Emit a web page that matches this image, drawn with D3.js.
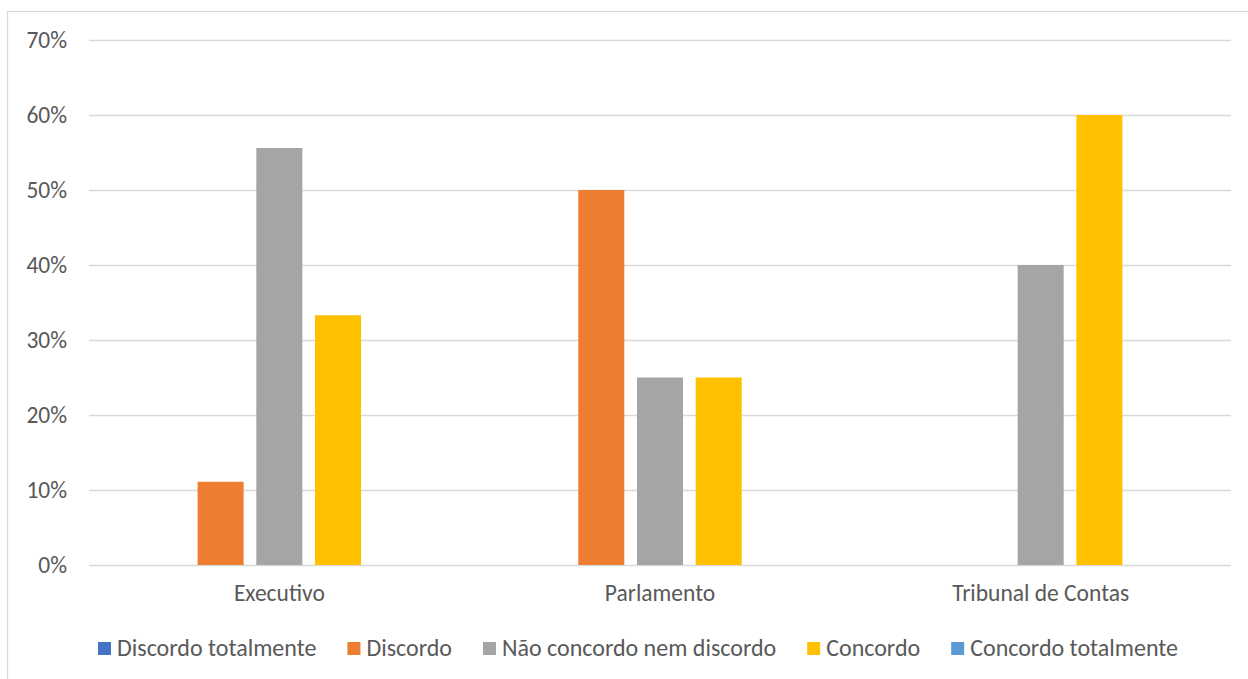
<!DOCTYPE html>
<html>
<head>
<meta charset="utf-8">
<script src="https://cdn.jsdelivr.net/npm/d3@7"></script>
<style>
  html, body { margin: 0; padding: 0; background: #fff; }
  svg { display: block; font-family: Carlito, Calibri, "Noto Sans", sans-serif; }
</style>
</head>
<body>
<svg id="chart" width="1248" height="679"></svg>
<script>
// Categories, series and values (shares of respondents)
const categories = ["Executivo", "Parlamento", "Tribunal de Contas"];
const seriesNames = ["Discordo totalmente", "Discordo", "Não concordo nem discordo", "Concordo", "Concordo totalmente"];
const seriesColors = ["#4472C4", "#ED7D31", "#A5A5A5", "#FFC000", "#5B9BD5"];
const discordoTotalmente = [0, 0, 0];
const discordo = [0.111, 0.50, 0];
const naoConcordoNemDiscordo = [0.556, 0.25, 0.40];
const concordo = [0.333, 0.25, 0.60];
const concordoTotalmente = [0, 0, 0];
const yTicks = [0, 0.1, 0.2, 0.3, 0.4, 0.5, 0.6, 0.7];

const seriesValues = [discordoTotalmente, discordo, naoConcordoNemDiscordo, concordo, concordoTotalmente];

const svg = d3.select("#chart");
const plot = { left: 89, right: 1231, top: 40, bottom: 565 };
const textColor = "#595959";
const gridColor = "#D9D9D9";
const fontStack = "Carlito, Calibri, 'Noto Sans', sans-serif";

// Chart frame
svg.append("rect")
  .attr("x", 7.5).attr("y", 11.5)
  .attr("width", 1300).attr("height", 700)
  .attr("fill", "#fff").attr("stroke", gridColor).attr("stroke-width", 1.3);

const x0 = d3.scaleBand().domain(categories).range([plot.left, plot.right]).padding(0);
const x1 = d3.scaleBand().domain(seriesNames).range([0, x0.bandwidth()])
  .paddingInner(0.216).paddingOuter(0.85);
const y = d3.scaleLinear().domain([0, 0.7]).range([plot.bottom, plot.top]);

// Horizontal gridlines
svg.append("g")
  .selectAll("line")
  .data(yTicks)
  .join("line")
  .attr("x1", plot.left).attr("x2", plot.right)
  .attr("y1", d => Math.round(y(d)) + 0.5).attr("y2", d => Math.round(y(d)) + 0.5)
  .attr("stroke", gridColor).attr("stroke-width", 1.3);

// Y axis labels
const yAxis = d3.axisLeft(y).tickValues(yTicks).tickFormat(d3.format(".0%")).tickSize(0).tickPadding(22);
const gy = svg.append("g").attr("transform", `translate(${plot.left},0)`).call(yAxis);
gy.select(".domain").remove();
gy.selectAll("text").attr("fill", textColor).style("font-size", "23.5px")
  .style("font-family", fontStack);

// Bars
const rows = categories.map((c, i) => ({ cat: c, vals: seriesNames.map((s, j) => ({ s, j, v: seriesValues[j][i] })) }));
const groups = svg.append("g").selectAll("g")
  .data(rows)
  .join("g")
  .attr("transform", d => `translate(${x0(d.cat)},0)`);
groups.selectAll("rect")
  .data(d => d.vals.filter(e => e.v > 0))
  .join("rect")
  .attr("x", d => x1(d.s))
  .attr("width", x1.bandwidth())
  .attr("y", d => y(d.v))
  .attr("height", d => y(0) - y(d.v))
  .attr("fill", d => seriesColors[d.j]);

// Category axis labels
const xAxis = d3.axisBottom(x0).tickSize(0).tickPadding(19);
const gx = svg.append("g").attr("transform", `translate(0,${plot.bottom})`).call(xAxis);
gx.select(".domain").remove();
gx.selectAll("text").attr("fill", textColor).style("font-size", "23.5px")
  .style("font-family", fontStack);

// Legend, laid out from measured text widths and centred under the chart
const legend = svg.append("g");
const items = legend.selectAll("g").data(seriesNames).join("g");
items.append("rect").attr("width", 13).attr("height", 13).attr("y", -14)
  .attr("fill", (d, i) => seriesColors[i]);
items.append("text").attr("x", 19).attr("y", 0)
  .attr("fill", textColor).style("font-size", "24px").text(d => d);
let cursor = 0;
const gap = 31;
items.each(function () {
  const w = 19 + d3.select(this).select("text").node().getComputedTextLength();
  d3.select(this).attr("transform", `translate(${cursor},0)`);
  cursor += w + gap;
});
const total = cursor - gap;
legend.attr("transform", `translate(${638 - total / 2},656)`);
</script>
</body>
</html>
